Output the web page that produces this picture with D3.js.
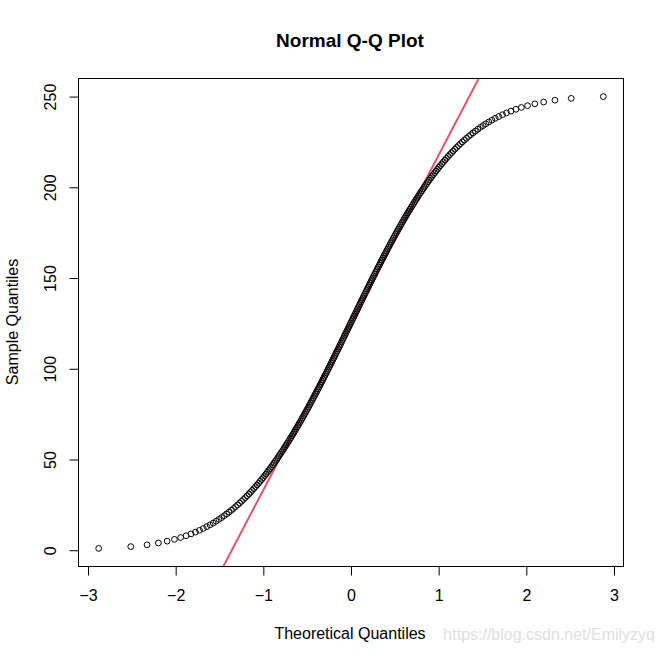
<!DOCTYPE html>
<html><head><meta charset="utf-8">
<script src="https://cdn.jsdelivr.net/npm/d3@7"></script>
<style>body{margin:0;background:#fff}text{font-family:"Liberation Sans",Arial,sans-serif}</style>
</head><body>
<svg id="c" width="664" height="664"></svg>
<script>
// Sample values (sorted)
const sampleValues = [1,2,3,4,5,6,7,8,9,10,11,12,13,14,15,16,17,18,19,20,21,22,23,24,25,26,27,28,29,30,31,32,33,34,35,36,37,38,39,40,41,42,43,44,45,46,47,48,49,50,
51,52,53,54,55,56,57,58,59,60,61,62,63,64,65,66,67,68,69,70,71,72,73,74,75,76,77,78,79,80,81,82,83,84,85,86,87,88,89,90,91,92,93,94,95,96,97,98,99,100,
101,102,103,104,105,106,107,108,109,110,111,112,113,114,115,116,117,118,119,120,121,122,123,124,125,126,127,128,129,130,131,132,133,134,135,136,137,138,139,140,141,142,143,144,145,146,147,148,149,150,
151,152,153,154,155,156,157,158,159,160,161,162,163,164,165,166,167,168,169,170,171,172,173,174,175,176,177,178,179,180,181,182,183,184,185,186,187,188,189,190,191,192,193,194,195,196,197,198,199,200,
201,202,203,204,205,206,207,208,209,210,211,212,213,214,215,216,217,218,219,220,221,222,223,224,225,226,227,228,229,230,231,232,233,234,235,236,237,238,239,240,241,242,243,244,245,246,247,248,249,250];
const xTicks = [-3,-2,-1,0,1,2,3];
const yTicks = [0,50,100,150,200,250];
const titleText = "Normal Q-Q Plot";
const xLabel = "Theoretical Quantiles";
const yLabel = "Sample Quantiles";

// inverse normal CDF (Acklam)
function qnorm(p){
  const a=[-3.969683028665376e+01,2.209460984245205e+02,-2.759285104469687e+02,1.383577518672690e+02,-3.066479806614716e+01,2.506628277459239e+00];
  const b=[-5.447609879822406e+01,1.615858368580409e+02,-1.556989798598866e+02,6.680131188771972e+01,-1.328068155288572e+01];
  const c=[-7.784894002430293e-03,-3.223964580411365e-01,-2.400758277161838e+00,-2.549732539343734e+00,4.374664141464968e+00,2.938163982698783e+00];
  const d=[7.784695709041462e-03,3.224671290700398e-01,2.445134137142996e+00,3.754408661907416e+00];
  const pl=0.02425, ph=1-pl; let q,r;
  if(p<pl){q=Math.sqrt(-2*Math.log(p));return (((((c[0]*q+c[1])*q+c[2])*q+c[3])*q+c[4])*q+c[5])/((((d[0]*q+d[1])*q+d[2])*q+d[3])*q+1);}
  if(p<=ph){q=p-0.5;r=q*q;return (((((a[0]*r+a[1])*r+a[2])*r+a[3])*r+a[4])*r+a[5])*q/(((((b[0]*r+b[1])*r+b[2])*r+b[3])*r+b[4])*r+1);}
  q=Math.sqrt(-2*Math.log(1-p));return -(((((c[0]*q+c[1])*q+c[2])*q+c[3])*q+c[4])*q+c[5])/((((d[0]*q+d[1])*q+d[2])*q+d[3])*q+1);
}
const n = sampleValues.length;
const pts = sampleValues.map((v,i)=>({x:qnorm((i+0.5)/n), y:v}));

const L=78.5, R=623.5, T=78.5, B=566.5;
const xr = d3.extent(pts,d=>d.x), yr = d3.extent(pts,d=>d.y);
const xp=(xr[1]-xr[0])*0.04, yp=(yr[1]-yr[0])*0.04;
const x = d3.scaleLinear().domain([xr[0]-xp,xr[1]+xp]).range([L,R]);
const y = d3.scaleLinear().domain([yr[0]-yp,yr[1]+yp]).range([B,T]);

const svg = d3.select("#c");
svg.append("defs").append("clipPath").attr("id","clip").append("rect")
  .attr("x",L).attr("y",T).attr("width",R-L).attr("height",B-T);

// qqline through quartiles
const q1 = d3.quantile(sampleValues,0.25), q3 = d3.quantile(sampleValues,0.75);
const t1 = qnorm(0.25), t3 = qnorm(0.75);
const slope=(q3-q1)/(t3-t1), inter=q1-slope*t1;
const xd = x.domain();
svg.append("line").attr("clip-path","url(#clip)")
  .attr("x1",x(xd[0]-1)).attr("y1",y(inter+slope*(xd[0]-1)))
  .attr("x2",x(xd[1]+1)).attr("y2",y(inter+slope*(xd[1]+1)))
  .attr("stroke","#DF536B").attr("stroke-width",2);

svg.append("g").selectAll("circle").data(pts).join("circle")
  .attr("cx",d=>x(d.x)).attr("cy",d=>y(d.y)).attr("r",2.9)
  .attr("fill","none").attr("stroke","#000").attr("stroke-width",1);

svg.append("rect").attr("x",L).attr("y",T).attr("width",R-L).attr("height",B-T)
  .attr("fill","none").attr("stroke","#000").attr("stroke-width",1);

const xa = svg.append("g").attr("transform",`translate(0,${B})`)
  .call(d3.axisBottom(x).tickValues(xTicks).tickSize(9).tickPadding(14).tickSizeOuter(0).tickFormat(d3.format("d")));
xa.select(".domain").attr("d",`M${x(xTicks[0])},0H${x(xTicks[xTicks.length-1])}`);
xa.selectAll("text").attr("font-size",16).attr("fill","#000").attr("font-family","Liberation Sans, Arial, sans-serif");

const ya = svg.append("g").attr("transform",`translate(${L},0)`)
  .call(d3.axisLeft(y).tickValues(yTicks).tickSize(9).tickSizeOuter(0).tickFormat(d3.format("d")));
ya.select(".domain").attr("d",`M0,${y(yTicks[0])}V${y(yTicks[yTicks.length-1])}`);
ya.selectAll("text").attr("font-size",16).attr("fill","#000").attr("font-family","Liberation Sans, Arial, sans-serif")
  .attr("text-anchor","middle").attr("dy",0).attr("x",0)
  .attr("transform","translate(-23,0) rotate(-90)");

svg.append("text").attr("x",350).attr("y",47).attr("text-anchor","middle")
  .attr("font-size",19).attr("font-weight","bold").text(titleText);
svg.append("text").attr("x",350).attr("y",639).attr("text-anchor","middle")
  .attr("font-size",16).text(xLabel);
svg.append("text").attr("transform","translate(18,322) rotate(-90)").attr("text-anchor","middle")
  .attr("font-size",16).text(yLabel);
svg.append("text").attr("x",655).attr("y",640).attr("text-anchor","end")
  .attr("font-size",16).attr("fill","#e0e0e0").text("https://blog.csdn.net/Emilyzyq");
</script>
</body></html>
